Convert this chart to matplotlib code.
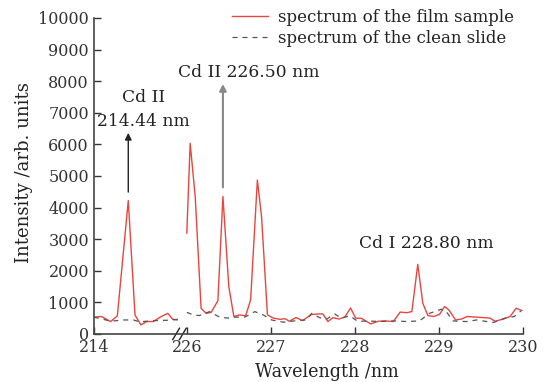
import numpy as np
import matplotlib.pyplot as plt

plt.rcParams['font.family'] = ['DejaVu Serif']

# film sample spectrum, left piece (214 nm region) and right piece (226-230 nm)
film_wl_left = [214.00, 214.09, 214.20, 214.28, 214.41, 214.49, 214.56, 214.63,
                214.71, 214.79, 214.88, 214.94, 214.99]
film_int_left = [530, 550, 390, 570, 4220, 600, 285, 390, 390, 530, 650, 460, 440]

film_wl_right = [226.00, 226.04, 226.10, 226.17, 226.23, 226.29, 226.37, 226.43,
                 226.50, 226.56, 226.63, 226.70, 226.76, 226.84, 226.89, 226.96,
                 227.03, 227.11, 227.17, 227.22, 227.30, 227.38, 227.48, 227.56,
                 227.62, 227.68, 227.74, 227.81, 227.88, 227.95, 228.01, 228.08,
                 228.19, 228.28, 228.36, 228.46, 228.54, 228.62, 228.68, 228.75,
                 228.81, 228.87, 228.94, 229.01, 229.07, 229.12, 229.20, 229.27,
                 229.34, 229.61, 229.67, 229.77, 229.85, 229.92, 229.99]
film_int_right = [3190, 6030, 4350, 810, 650, 680, 1050, 4350,
                  1500, 550, 600, 570, 1075, 4870, 3710, 600,
                  500, 460, 480, 400, 515, 420, 610, 630,
                  630, 390, 515, 470, 530, 820, 500, 490,
                  315, 400, 410, 390, 690, 670, 705, 2200,
                  970, 580, 550, 620, 865, 760, 440, 470,
                  550, 500, 400, 470, 550, 810, 740]

# clean slide spectrum
clean_wl_left = [214.00, 214.10, 214.20, 214.35, 214.47, 214.55, 214.71, 214.87, 215.00]
clean_int_left = [530, 470, 400, 440, 440, 380, 420, 430, 460]

clean_wl_right = [226.00, 226.08, 226.15, 226.27, 226.39, 226.49, 226.59, 226.69,
                  226.81, 226.91, 227.01, 227.15, 227.31, 227.42, 227.49, 227.58,
                  227.66, 227.76, 227.84, 227.94, 228.04, 228.14, 228.30, 228.48,
                  228.62, 228.77, 228.89, 229.03, 229.09, 229.17, 229.33, 229.45,
                  229.65, 229.79, 229.90, 229.98]
clean_int_right = [680, 600, 580, 705, 530, 500, 530, 530,
                   705, 600, 440, 370, 420, 440, 650, 515,
                   460, 630, 500, 570, 390, 410, 390, 410,
                   390, 410, 650, 780, 705, 410, 390, 440,
                   360, 500, 550, 730]

tick_labels = ['214', '226', '227', '228', '229', '230']
tick_wl = [214, 226, 227, 228, 229, 230]

GAP = 1.107  # axis position where 226 nm sits


def pos(w):
    w = np.asarray(w, dtype=float)
    return np.where(w < 220, w - 214, w - 226 + GAP)


red = '#e8453f'
grey = '#555555'
ink = '#222222'

fig = plt.figure(figsize=(5.52, 3.82), dpi=100)
ax = fig.add_axes([0.170, 0.126, 0.777, 0.827])

ax.plot(pos(film_wl_left), film_int_left, color=red, lw=1.0,
        label='spectrum of the film sample')
ax.plot(pos(film_wl_right), film_int_right, color=red, lw=1.0)
ax.plot(pos(clean_wl_left), clean_int_left, color=grey, lw=0.9,
        ls=(0, (4, 4)), label='spectrum of the clean slide')
ax.plot(pos(clean_wl_right), clean_int_right, color=grey, lw=0.9, ls=(0, (4, 4)))

ax.set_xlim(0, pos(230))
ax.set_ylim(0, 10000)
ax.set_xticks(pos(tick_wl))
ax.set_xticklabels(tick_labels)
ax.set_yticks(np.arange(0, 10001, 1000))
ax.tick_params(direction='in', labelsize=11.5, length=5, width=1, colors='#333333')
for s in ['top', 'right']:
    ax.spines[s].set_visible(False)
for s in ['left', 'bottom']:
    ax.spines[s].set_color('#444444')
    ax.spines[s].set_linewidth(1.2)

ax.set_xlabel('Wavelength /nm', fontsize=12.7, color=ink)
ax.xaxis.set_label_coords(0.543, -0.093)
ax.set_ylabel('Intensity /arb. units', fontsize=13, color=ink)
ax.yaxis.set_label_coords(-0.142, 0.51)

# axis break marks
bx = pos(214) + 1.02
for dx in (-0.04, 0.04):
    ax.plot([bx + dx - 0.04, bx + dx + 0.04], [-180, 180], color=ink,
            lw=1.0, clip_on=False)

# annotations
ax.annotate('', xy=(pos(214.41), 6450), xytext=(pos(214.41), 4400),
            arrowprops=dict(arrowstyle='-|>', color=ink, lw=1.0,
                            mutation_scale=10))
ax.text(pos(214.59), 7100, 'Cd II\n214.44 nm', ha='center', va='center',
        fontsize=12.3, color=ink, linespacing=1.55)
ax.annotate('', xy=(pos(226.43), 8000), xytext=(pos(226.43), 4550),
            arrowprops=dict(arrowstyle='-|>', color='#888888', lw=1.5,
                            mutation_scale=10))
ax.text(pos(226.74), 8260, 'Cd II 226.50 nm', ha='center', va='center',
        fontsize=12.3, color=ink)
ax.text(pos(228.85), 2850, 'Cd I 228.80 nm', ha='center', va='center',
        fontsize=12.3, color=ink)

ax.legend(loc='upper right', bbox_to_anchor=(1.015, 1.075), frameon=False,
          fontsize=12, handlelength=2.2, handletextpad=0.6, labelspacing=0.2,
          labelcolor=ink)

fig.savefig('out.png', dpi=100)
